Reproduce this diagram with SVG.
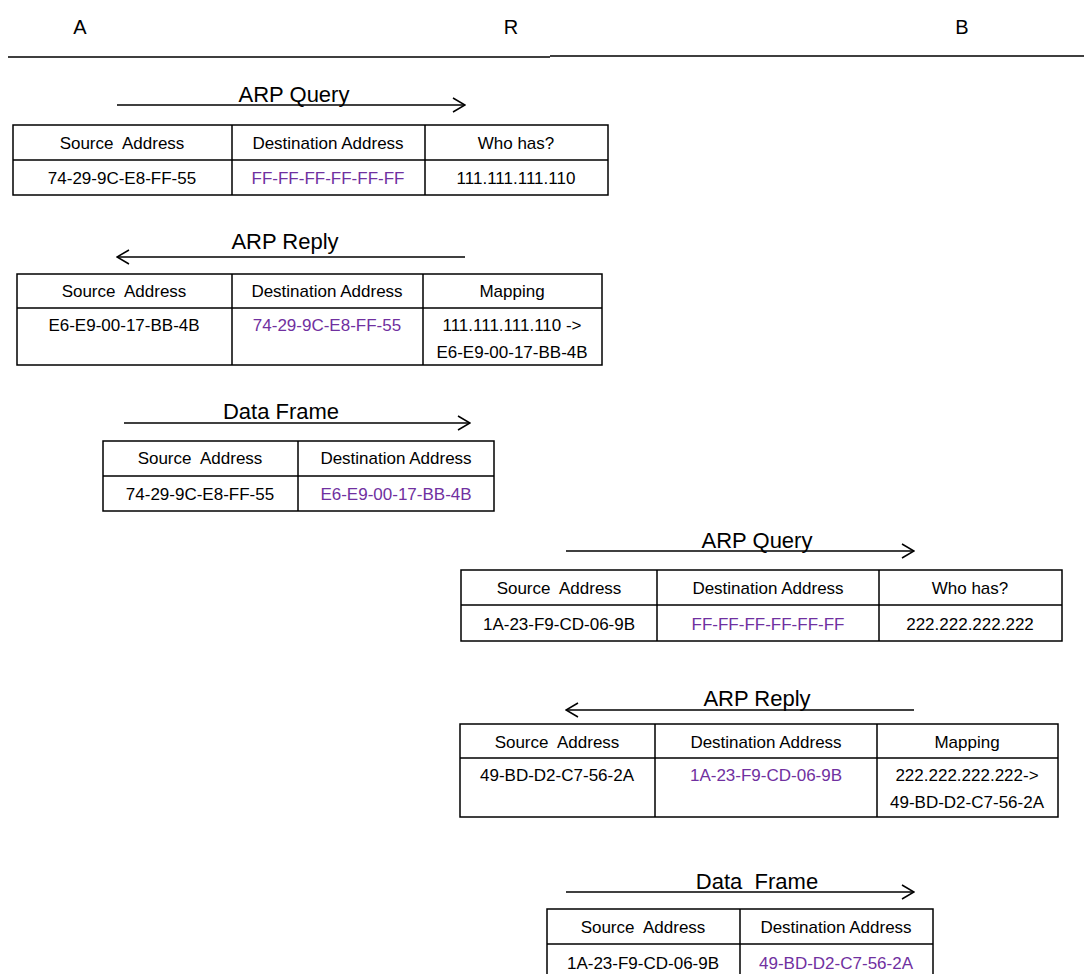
<svg xmlns="http://www.w3.org/2000/svg" width="1084" height="974" viewBox="0 0 1084 974">
<style>
text{font-family:"Liberation Sans",Arial,sans-serif;fill:#000;white-space:pre}
.h{font-size:20px;text-anchor:middle}
.t{font-size:22px;text-anchor:middle}
.c{font-size:17px;text-anchor:middle}
.p{fill:#7030A0}
.box{fill:#fff;stroke:#000;stroke-width:1.5}
.ln{stroke:#000;stroke-width:1.5;fill:none}
.arr{stroke:#000;stroke-width:1.5;fill:none}
</style>
<defs>
<marker id="ah" viewBox="0 0 14 16" refX="13" refY="8" markerWidth="14" markerHeight="16" markerUnits="userSpaceOnUse" orient="auto-start-reverse">
<path d="M1,1 L13,8 L1,15" fill="none" stroke="#000" stroke-width="1.5"/>
</marker>
</defs>
<rect width="1084" height="974" fill="#fff"/>
<g id="header">
<text class="h" x="80" y="34">A</text>
<text class="h" x="511" y="34">R</text>
<text class="h" x="962" y="34">B</text>
<path class="ln" d="M8,57 H550 M550,56 H1084"/>
</g>
<g id="connectors">
<line class="arr" x1="117" y1="105" x2="465" y2="105" marker-end="url(#ah)"/>
<line class="arr" x1="465" y1="257" x2="117" y2="257" marker-end="url(#ah)"/>
<line class="arr" x1="124" y1="423" x2="470" y2="423" marker-end="url(#ah)"/>
<line class="arr" x1="566" y1="551" x2="914" y2="551" marker-end="url(#ah)"/>
<line class="arr" x1="914" y1="710" x2="566" y2="710" marker-end="url(#ah)"/>
<line class="arr" x1="566" y1="892" x2="914" y2="892" marker-end="url(#ah)"/>
</g>
<g id="query1">
<text class="t" x="294" y="102">ARP Query</text>
<rect class="box" x="13" y="125" width="595" height="70"/>
<path class="ln" d="M13,160 H608 M232,125 V195 M425,125 V195"/>
<text class="c" x="122" y="149">Source  Address</text>
<text class="c" x="328" y="149">Destination Address</text>
<text class="c" x="516" y="149">Who has?</text>
<text class="c" x="122" y="184">74-29-9C-E8-FF-55</text>
<text class="c p" x="328" y="184">FF-FF-FF-FF-FF-FF</text>
<text class="c" x="516" y="184">111.111.111.110</text>
</g>
<g id="reply1">
<text class="t" x="285" y="249">ARP Reply</text>
<rect class="box" x="17" y="274" width="585" height="91"/>
<path class="ln" d="M17,308 H602 M232,274 V365 M423,274 V365"/>
<text class="c" x="124" y="297">Source  Address</text>
<text class="c" x="327" y="297">Destination Address</text>
<text class="c" x="512" y="297">Mapping</text>
<text class="c" x="124" y="331">E6-E9-00-17-BB-4B</text>
<text class="c p" x="327" y="331">74-29-9C-E8-FF-55</text>
<text class="c" x="512" y="331">111.111.111.110 -&gt;</text>
<text class="c" x="512" y="358">E6-E9-00-17-BB-4B</text>
</g>
<g id="data1">
<text class="t" x="281" y="419">Data Frame</text>
<rect class="box" x="103" y="441" width="391" height="70"/>
<path class="ln" d="M103,476 H494 M298,441 V511"/>
<text class="c" x="200" y="464">Source  Address</text>
<text class="c" x="396" y="464">Destination Address</text>
<text class="c" x="200" y="500">74-29-9C-E8-FF-55</text>
<text class="c p" x="396" y="500">E6-E9-00-17-BB-4B</text>
</g>
<g id="query2">
<text class="t" x="757" y="548">ARP Query</text>
<rect class="box" x="461" y="570" width="601" height="71"/>
<path class="ln" d="M461,605 H1062 M657,570 V641 M879,570 V641"/>
<text class="c" x="559" y="594">Source  Address</text>
<text class="c" x="768" y="594">Destination Address</text>
<text class="c" x="970" y="594">Who has?</text>
<text class="c" x="559" y="630">1A-23-F9-CD-06-9B</text>
<text class="c p" x="768" y="630">FF-FF-FF-FF-FF-FF</text>
<text class="c" x="970" y="630">222.222.222.222</text>
</g>
<g id="reply2">
<text class="t" x="757" y="706">ARP Reply</text>
<rect class="box" x="460" y="724" width="598" height="93"/>
<path class="ln" d="M460,758 H1058 M655,724 V817 M877,724 V817"/>
<text class="c" x="557" y="748">Source  Address</text>
<text class="c" x="766" y="748">Destination Address</text>
<text class="c" x="967" y="748">Mapping</text>
<text class="c" x="557" y="781">49-BD-D2-C7-56-2A</text>
<text class="c p" x="766" y="781">1A-23-F9-CD-06-9B</text>
<text class="c" x="967" y="781">222.222.222.222-&gt;</text>
<text class="c" x="967" y="808">49-BD-D2-C7-56-2A</text>
</g>
<g id="data2">
<text class="t" x="757" y="889">Data  Frame</text>
<rect class="box" x="547" y="909" width="386" height="72"/>
<path class="ln" d="M547,944 H933 M740,909 V981"/>
<text class="c" x="643" y="933">Source  Address</text>
<text class="c" x="836" y="933">Destination Address</text>
<text class="c" x="643" y="969">1A-23-F9-CD-06-9B</text>
<text class="c p" x="836" y="969">49-BD-D2-C7-56-2A</text>
</g>
</svg>
